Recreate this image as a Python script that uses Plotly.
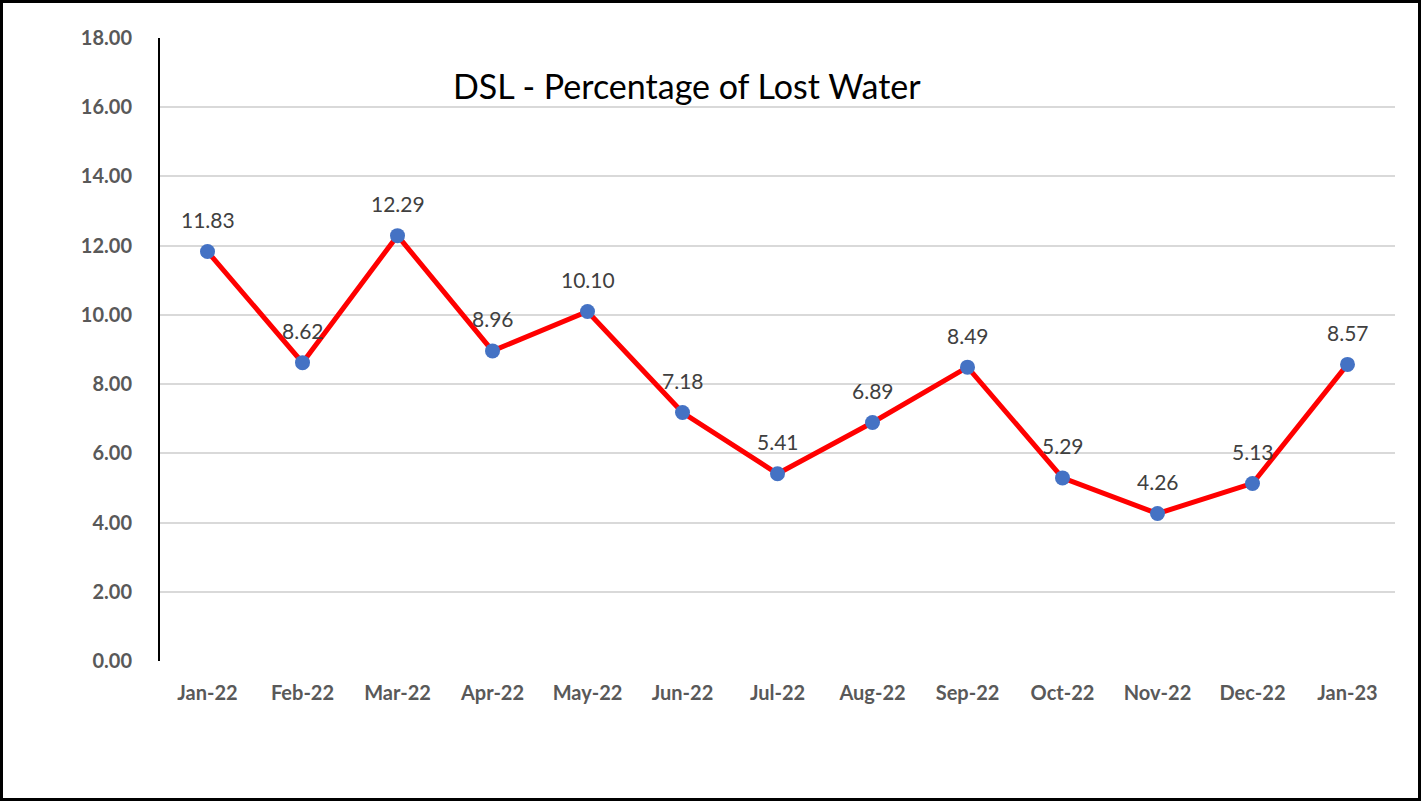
import plotly.graph_objects as go

months = ["Jan-22", "Feb-22", "Mar-22", "Apr-22", "May-22", "Jun-22", "Jul-22",
          "Aug-22", "Sep-22", "Oct-22", "Nov-22", "Dec-22", "Jan-23"]
lost_pct = [11.83, 8.62, 12.29, 8.96, 10.10, 7.18, 5.41, 6.89, 8.49, 5.29, 4.26, 5.13, 8.57]
y_ticks = [0, 2, 4, 6, 8, 10, 12, 14, 16, 18]

W, H = 1422, 802
L, R, T, B = 160, 27, 38, 141
pw, ph = W - L - R, H - T - B
FONT = "Lato, Open Sans, sans-serif"

fig = go.Figure()
fig.add_trace(go.Scatter(
    x=list(range(len(months))), y=lost_pct, mode="lines+markers",
    line=dict(color="#FF0000", width=5),
    marker=dict(color="#4472C4", size=15),
    hoverinfo="skip", showlegend=False,
))

for i, v in enumerate(lost_pct):
    fig.add_annotation(x=i, y=v, text=f"{v:.2f}", showarrow=False, yshift=32,
                       font=dict(family=FONT, size=21, color="#404040"))

fig.add_annotation(xref="paper", yref="paper", x=(687 - L) / pw, y=(H - B - 85) / ph,
                   xanchor="center", yanchor="middle",
                   text="DSL - Percentage of Lost Water", showarrow=False,
                   font=dict(family=FONT, size=34, color="#000000"))

fig.add_shape(type="rect", xref="paper", yref="paper",
              x0=(1.5 - L) / pw, x1=(1419.5 - L) / pw,
              y0=(H - B - 799.5) / ph, y1=(H - B - 1.5) / ph,
              line=dict(color="#000000", width=3), fillcolor="rgba(0,0,0,0)")

fig.update_layout(
    width=W, height=H,
    margin=dict(l=L, r=R, t=T, b=B, autoexpand=False),
    paper_bgcolor="white", plot_bgcolor="white",
    xaxis=dict(range=[-0.5, len(months) - 0.5], tickmode="array",
               tickvals=list(range(len(months))), ticktext=months,
               showgrid=False, zeroline=False, showline=False, ticks="",
               tickfont=dict(family=FONT, size=20, color="#595959", weight="bold"),
               ticklabelstandoff=18),
    yaxis=dict(range=[0, 18], tickmode="array", tickvals=y_ticks,
               ticktext=[f"{t:.2f}" for t in y_ticks],
               showgrid=True, gridcolor="#D9D9D9", gridwidth=2, zeroline=False,
               showline=True, linecolor="#000000", linewidth=2, ticks="",
               tickfont=dict(family=FONT, size=20, color="#595959", weight="bold"),
               ticklabelstandoff=22),
)

fig.write_html("out.html", config={"displayModeBar": False},
               post_script="document.body.style.margin='0';document.body.style.overflow='hidden';")
